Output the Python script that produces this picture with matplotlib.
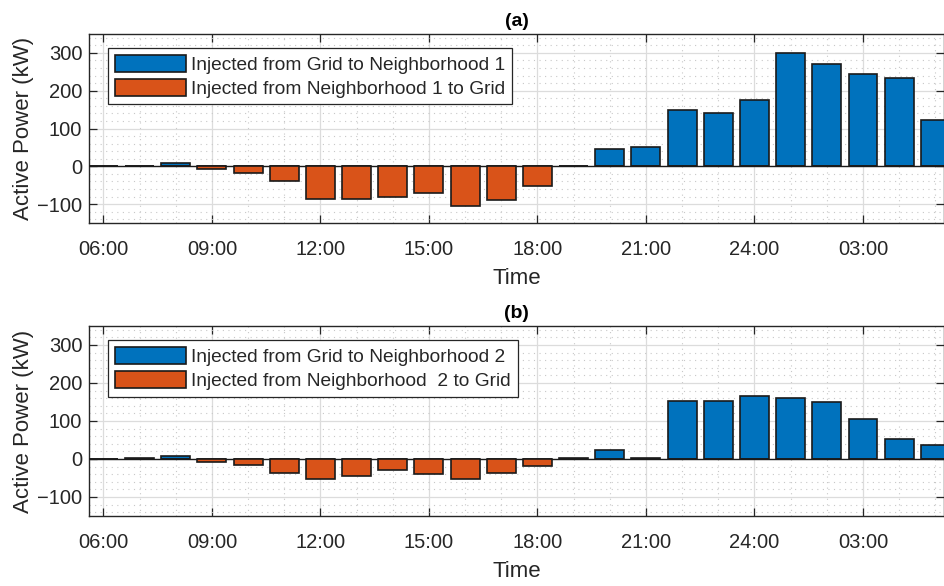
import matplotlib
matplotlib.use("Agg")
import matplotlib.pyplot as plt
from matplotlib.ticker import MultipleLocator, FixedLocator

plt.rcParams['font.family'] = ['Liberation Sans', 'DejaVu Sans']

hours = list(range(6, 30))
xtick_hours = [6, 9, 12, 15, 18, 21, 24, 27]
xtick_labels = ['06:00', '09:00', '12:00', '15:00', '18:00', '21:00', '24:00', '03:00']

# Panel (a) - Neighborhood 1
grid_to_n1 = [0, 0, 8, 0, 0, 0, 0, 0, 0, 0, 0, 0, 0, 0, 45, 52, 149, 142, 175, 301, 271, 245, 233, 122]
n1_to_grid = [0, 0, 0, -8, -19, -38, -86, -86, -82, -70, -104, -90, -52, 0, 0, 0, 0, 0, 0, 0, 0, 0, 0, 0]

# Panel (b) - Neighborhood 2
grid_to_n2 = [0, 3, 9, 0, 0, 0, 0, 0, 0, 0, 0, 0, 0, 3, 23, 3, 153, 153, 167, 160, 149, 104, 52, 37]
n2_to_grid = [0, 0, 0, -7, -15, -37, -52, -44, -30, -40, -52, -37, -18, 0, 0, 0, 0, 0, 0, 0, 0, 0, 0, 0]

titles = ['(a)', '(b)']
labels = [('Injected from Grid to Neighborhood 1', 'Injected from Neighborhood 1 to Grid'),
          ('Injected from Grid to Neighborhood 2', 'Injected from Neighborhood  2 to Grid')]

BLUE = '#0072BD'
ORANGE = '#D95319'
AXC = '#262626'

W, H = 944, 586
fig = plt.figure(figsize=(W / 100, H / 100), dpi=100)

def frac(l, t, r, b):
    return [l / W, 1 - b / H, (r - l) / W, (b - t) / H]

ax_a = fig.add_axes(frac(89.3, 34, 944, 223))
ax_b = fig.add_axes(frac(89.3, 326, 944, 516))

for ax, pos, neg, title, (l1, l2) in [(ax_a, grid_to_n1, n1_to_grid, titles[0], labels[0]),
                                       (ax_b, grid_to_n2, n2_to_grid, titles[1], labels[1])]:
    ax.set_axisbelow(True)
    ax.bar(hours, pos, width=0.8, color=BLUE, edgecolor='#1a1a1a', linewidth=1.2, label=l1, zorder=3)
    ax.bar(hours, neg, width=0.8, color=ORANGE, edgecolor='#1a1a1a', linewidth=1.2, label=l2, zorder=3)
    ax.axhline(0, color='#1a1a1a', linewidth=1.0, zorder=2.5)
    ax.set_xlim(5.61, 29.24)
    ax.set_ylim(-150, 350)
    ax.xaxis.set_major_locator(FixedLocator(xtick_hours))
    ax.set_xticklabels(xtick_labels)
    ax.xaxis.set_minor_locator(MultipleLocator(1))
    ax.yaxis.set_major_locator(FixedLocator([-100, 0, 100, 200, 300]))
    ax.yaxis.set_minor_locator(MultipleLocator(20))
    ax.grid(True, which='major', color='#dcdcdc', linewidth=0.9, linestyle='-')
    ax.grid(True, which='minor', color='#c8c8c8', linewidth=0.8, linestyle=(0, (1, 4)))
    ax.tick_params(which='major', direction='in', length=6, width=0.9, color=AXC,
                   top=True, right=True, labelsize=14.5, labelcolor=AXC)
    ax.tick_params(which='minor', length=0, top=True, right=True)
    ax.tick_params(axis='x', which='major', pad=12)
    ax.tick_params(axis='y', which='major', pad=5)
    for s in ax.spines.values():
        s.set_color(AXC)
        s.set_linewidth(1.0)
    ax.set_title(title, fontsize=14, fontweight='bold', color='black', pad=6)
    ax.set_xlabel('Time', fontsize=16, color=AXC, labelpad=7)
    ax.set_ylabel('Active Power (kW)', fontsize=16, color=AXC, labelpad=2)
    leg = ax.legend(loc='upper left', bbox_to_anchor=(0.022, 0.926), borderaxespad=0,
                    fontsize=13.8, handlelength=3.7, handleheight=1.0, handletextpad=0.3,
                    labelspacing=0.25, borderpad=0.35, fancybox=False, framealpha=1,
                    edgecolor=AXC)
    leg.get_frame().set_linewidth(0.9)
    for t in leg.get_texts():
        t.set_color(AXC)

fig.savefig('out.png', dpi=100)
